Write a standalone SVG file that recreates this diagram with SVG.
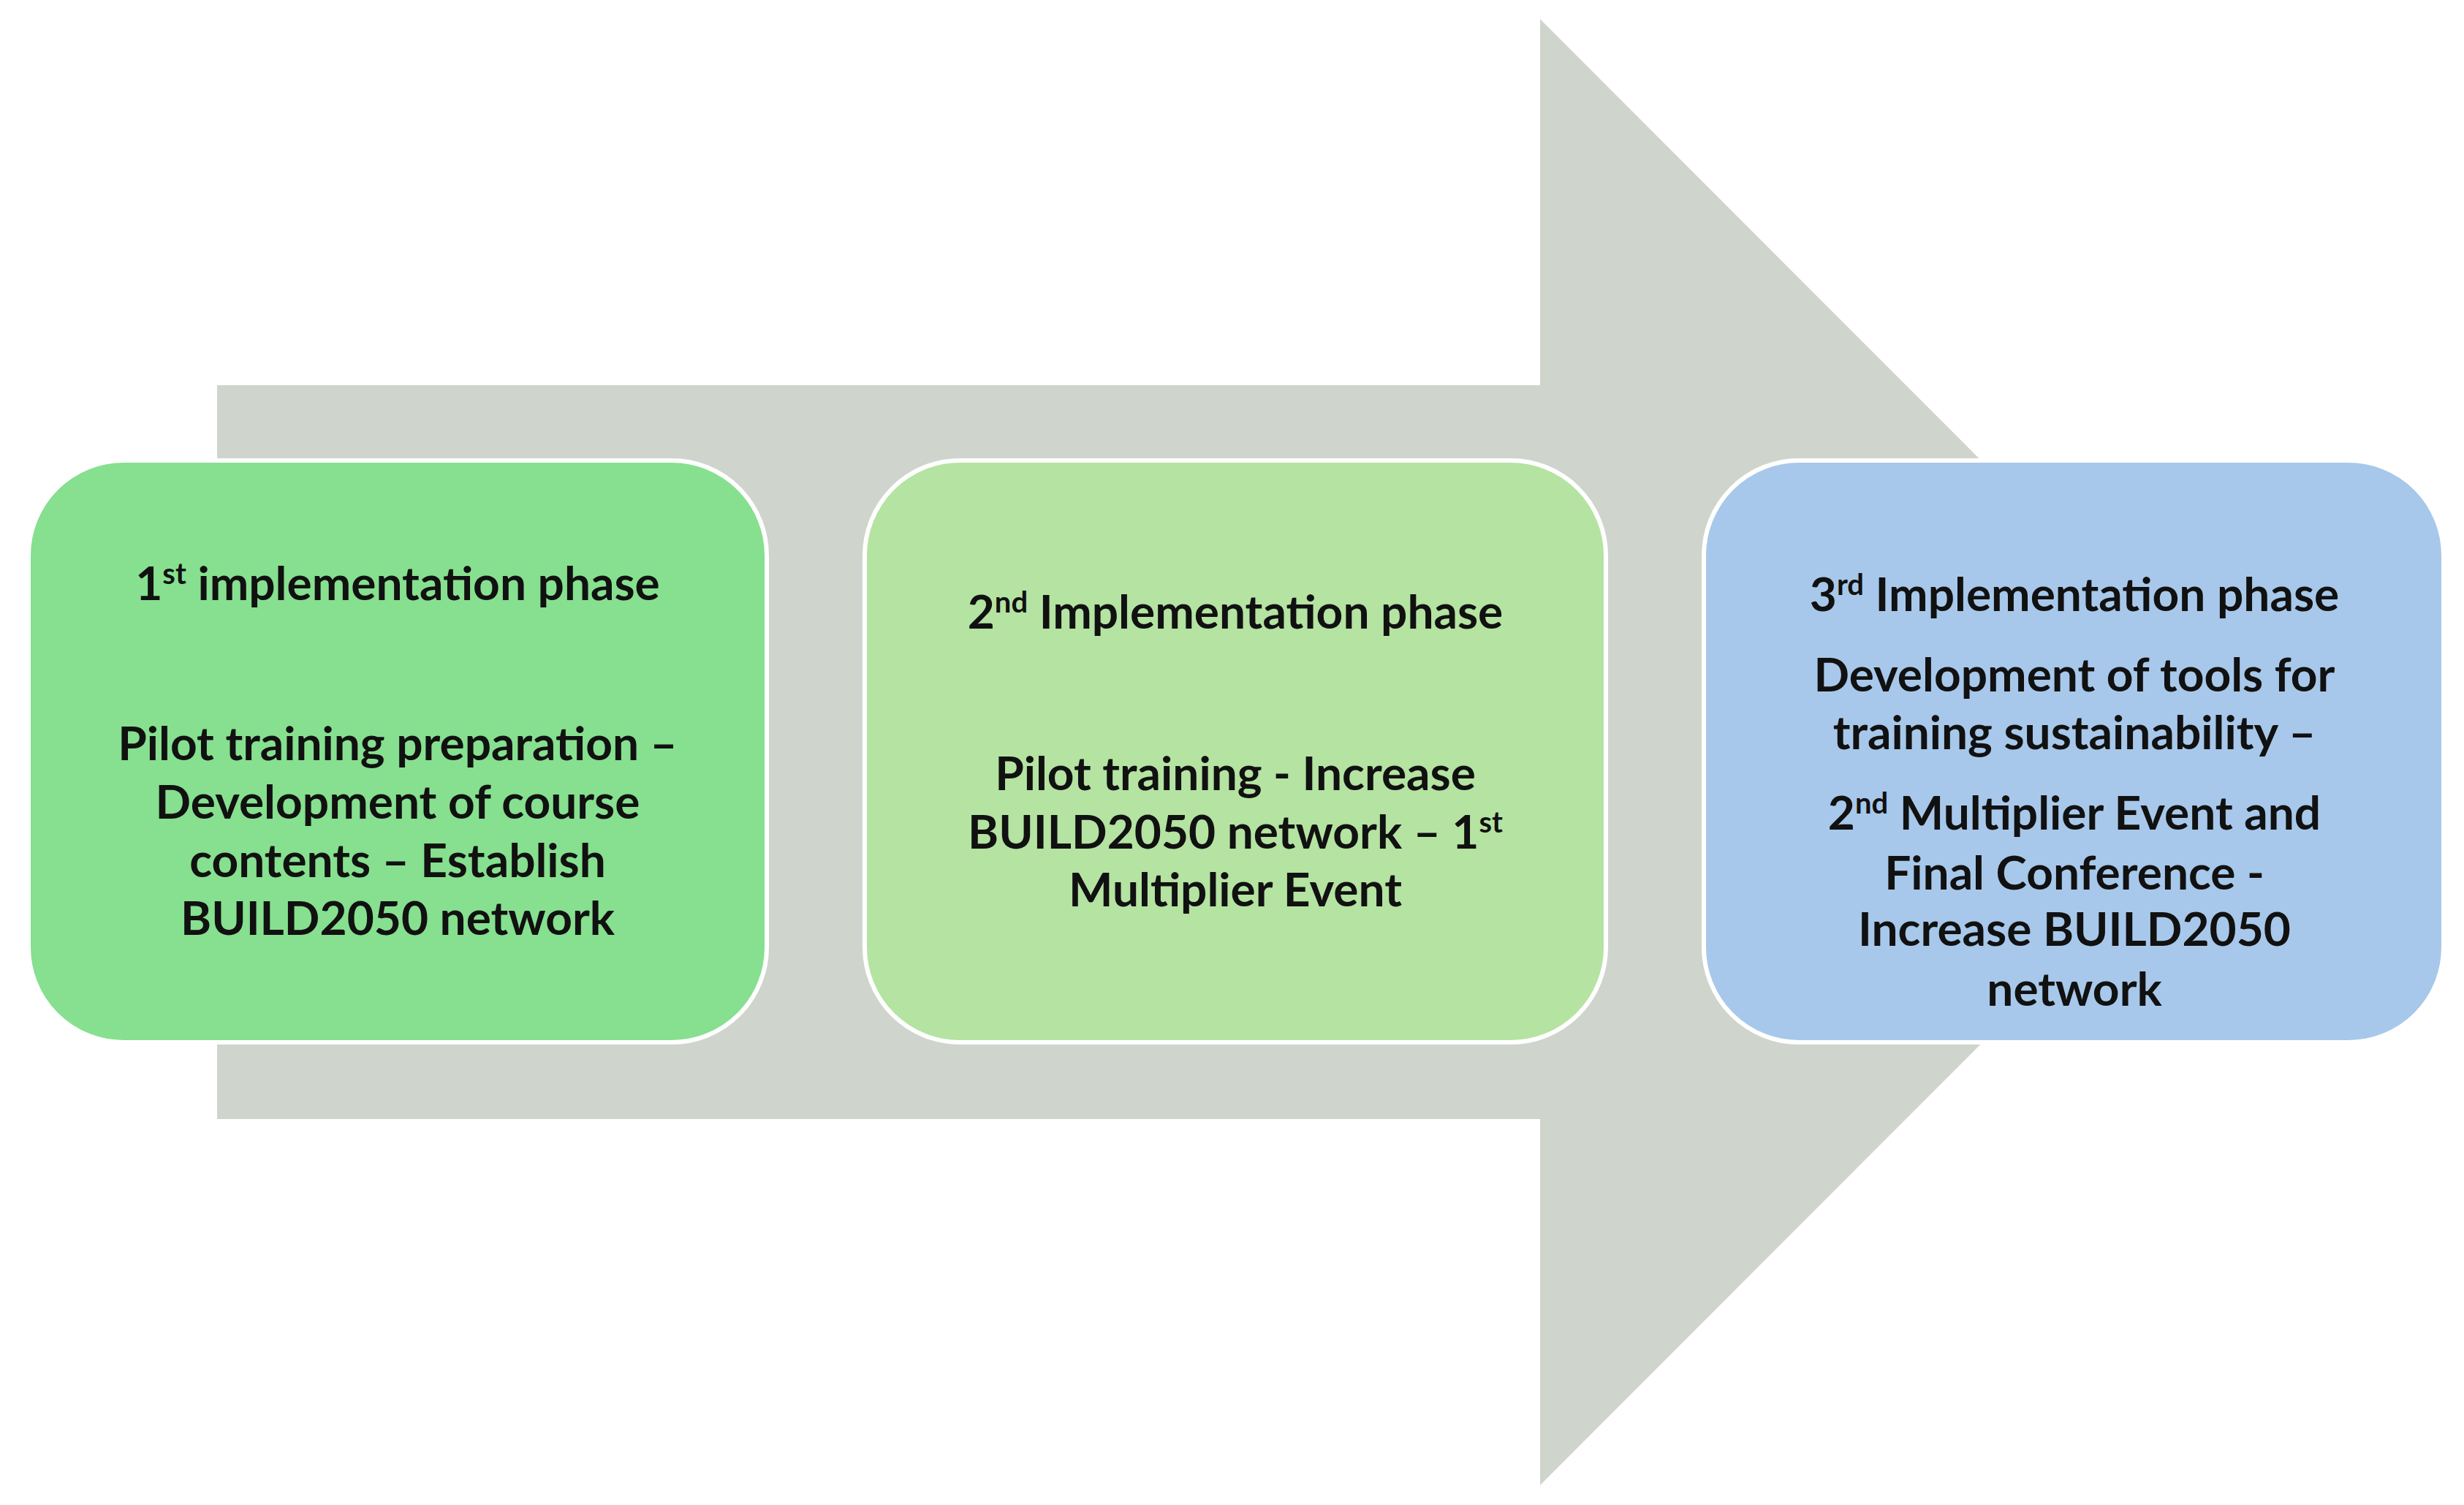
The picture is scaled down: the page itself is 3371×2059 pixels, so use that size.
<svg xmlns="http://www.w3.org/2000/svg" width="3371" height="2059" viewBox="0 0 3371 2059">
<style>
.box{stroke:#ffffff;stroke-width:6}
.t{font-family:Lato,"Liberation Sans",sans-serif;font-weight:bold;font-size:64px;fill:#111;text-anchor:middle}
.s{font-size:40px}
</style>
<rect width="3371" height="2059" fill="#ffffff"/>
<g id="arrow"><path d="M297,527 H2107 V26 L3109,1029 L2107,2032 V1531 H297 Z" fill="#cfd5cd"/></g>
<g id="phase1">
<rect class="box" x="39" y="630" width="1010" height="796" rx="130" fill="#86e08f"/>
<text class="t" x="544" y="821">1<tspan class="s" dy="-22">st</tspan><tspan dy="22"> implementation phase</tspan></text>
<text class="t" x="544" y="1040">Pilot training preparation –</text>
<text class="t" x="544" y="1120">Development of course</text>
<text class="t" x="544" y="1200">contents – Establish</text>
<text class="t" x="544" y="1279">BUILD2050 network</text>
</g>
<g id="phase2">
<rect class="box" x="1183" y="630" width="1014" height="796" rx="130" fill="#b4e3a2"/>
<text class="t" x="1690" y="860">2<tspan class="s" dy="-22">nd</tspan><tspan dy="22"> Implementation phase</tspan></text>
<text class="t" x="1690" y="1081">Pilot training - Increase</text>
<text class="t" x="1690" y="1161">BUILD2050 network – 1<tspan class="s" dy="-22">st</tspan></text>
<text class="t" x="1690" y="1240">Multiplier Event</text>
</g>
<g id="phase3">
<rect class="box" x="2331" y="630" width="1012" height="796" rx="130" fill="#a7c8ea"/>
<text class="t" x="2838" y="836">3<tspan class="s" dy="-22">rd</tspan><tspan dy="22"> Implementation phase</tspan></text>
<text class="t" x="2838" y="946">Development of tools for</text>
<text class="t" x="2838" y="1025">training sustainability –</text>
<text class="t" x="2838" y="1135">2<tspan class="s" dy="-22">nd</tspan><tspan dy="22"> Multiplier Event and</tspan></text>
<text class="t" x="2838" y="1217">Final Conference -</text>
<text class="t" x="2838" y="1294">Increase BUILD2050</text>
<text class="t" x="2838" y="1376">network</text>
</g>
<g id="connectors"></g>
</svg>
